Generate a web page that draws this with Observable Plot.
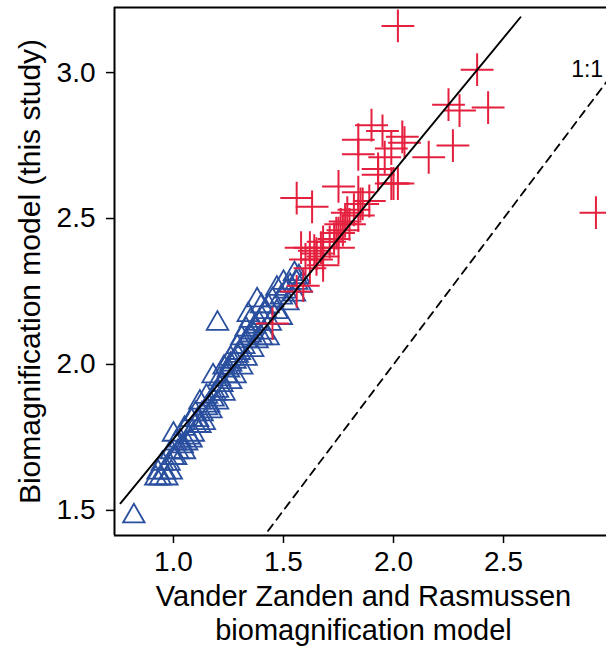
<!DOCTYPE html>
<html><head><meta charset="utf-8">
<script src="https://cdn.jsdelivr.net/npm/d3@7"></script>
<script src="https://cdn.jsdelivr.net/npm/@observablehq/plot@0.6"></script>
<style>body{margin:0;background:#fff;overflow:hidden} #chart svg{display:block}</style>
</head><body><div id="chart"></div>
<script>
// Blue triangles (fish / lower trophic group)
const triX = [0.82,0.92,0.94,0.97,0.93,0.96,0.99,0.95,0.98,1.00,1.01,0.99,1.02,1.04,1.01,1.06,1.03,1.00,1.07,1.09,1.05,1.10,1.08,1.11,1.13,1.10,1.15,1.16,1.12,1.18,1.15,1.19,1.20,1.18,1.22,1.21,1.24,1.25,1.23,1.26,1.28,1.26,1.29,1.30,1.29,1.32,1.33,1.31,1.35,1.36,1.33,1.37,1.35,1.39,1.20,1.34,1.38,1.40,1.42,1.40,1.43,1.45,1.47,1.49,1.51,1.50,1.53,1.55,1.56,1.57,1.58,
  1.05,1.08,1.12,1.14,1.17,1.20,1.23,1.26,1.28,1.31,1.33,1.36,1.38,1.41,1.44,1.47,1.52,1.55,1.40,1.43,1.49];
const triY = [1.48,1.61,1.61,1.61,1.63,1.63,1.63,1.66,1.66,1.68,1.68,1.70,1.70,1.72,1.73,1.73,1.74,1.76,1.75,1.76,1.78,1.79,1.81,1.81,1.83,1.83,1.85,1.86,1.87,1.88,1.89,1.90,1.91,1.96,1.93,1.95,1.96,1.98,1.99,2.00,2.01,2.02,2.03,2.04,2.06,2.06,2.08,2.09,2.10,2.11,2.12,2.13,2.15,2.14,2.14,2.17,2.22,2.16,2.18,2.20,2.20,2.22,2.26,2.23,2.25,2.28,2.27,2.31,2.28,2.30,2.27,
  1.70,1.74,1.79,1.80,1.84,1.87,1.90,1.94,1.96,1.99,2.02,2.05,2.08,2.11,2.14,2.18,2.21,2.24,2.09,2.09,2.16];
// Red crosses (higher trophic group)
const crossX = [2.02,2.38,2.25,2.30,2.43,1.90,1.95,1.84,2.04,2.05,1.99,1.84,2.27,2.16,1.96,1.93,2.00,2.02,1.99,1.75,1.56,1.63,2.92,1.89,1.86,1.82,1.79,1.84,1.78,1.76,1.80,1.75,1.73,1.71,1.58,1.64,1.67,1.75,1.65,1.68,1.60,1.65,1.62,1.68,1.59,1.56,1.45,1.84,1.85,1.77,1.74,1.68,1.62,1.93];
const crossY = [3.16,3.01,2.89,2.87,2.88,2.82,2.80,2.77,2.78,2.76,2.74,2.72,2.75,2.71,2.71,2.67,2.62,2.62,2.62,2.61,2.57,2.54,2.52,2.56,2.55,2.53,2.52,2.51,2.49,2.48,2.48,2.45,2.43,2.42,2.40,2.39,2.40,2.40,2.38,2.37,2.36,2.36,2.33,2.34,2.27,2.25,2.14,2.59,2.55,2.46,2.45,2.42,2.40,2.65];
// Fitted regression line and 1:1 reference
const fitIntercept = 0.829;
const fitSlope = 0.916;
const fitXRange = [0.759, 2.577];
const oneToOneRange = [1.2, 3.2];
const oneToOneLabel = ["1:1"];
const labelPos = [2.88, 3.01];
// Axes
const xDomain = [0.732, 2.968];
const yDomain = [1.414, 3.223];
const xTicks = [1.0, 1.5, 2.0, 2.5];
const yTicks = [1.5, 2.0, 2.5, 3.0];
const xTitle = "Vander Zanden and Rasmussen\nbiomagnification model";
const yTitle = "Biomagnification model (this study)";

const tri = triX.map((x, i) => ({x, y: triY[i]}));
const crs = crossX.map((x, i) => ({x, y: crossY[i]}));
const fit = fitXRange.map(x => ({x, y: fitIntercept + fitSlope * x}));
const one = oneToOneRange.map(v => ({x: v, y: v}));

const chart = Plot.plot({
  width: 606,
  height: 646,
  marginLeft: 114,
  marginTop: 7,
  marginRight: 0,
  marginBottom: 111,
  style: {fontFamily: "'Liberation Sans', Arial, sans-serif", color: "#000", background: "#fff"},
  x: {domain: xDomain},
  y: {domain: yDomain},
  marks: [
    Plot.axisX({ticks: xTicks, tickFormat: d3.format(".1f"), tickSize: 8, tickPadding: 8, fontSize: 28, label: null, strokeWidth: 1.5}),
    Plot.axisY({ticks: yTicks, tickFormat: d3.format(".1f"), tickSize: 8, tickPadding: 11, fontSize: 28, label: null, strokeWidth: 1.5}),
    Plot.ruleX([xDomain[0]], {stroke: "#000", strokeWidth: 2}),
    Plot.ruleY([yDomain[0]], {stroke: "#000", strokeWidth: 2}),
    Plot.ruleY([yDomain[1]], {stroke: "#000", strokeWidth: 2}),
    Plot.dot(tri, {x: "x", y: "y", symbol: "triangle", r: 8, stroke: "#2b4f9f", strokeWidth: 1.8, fill: "none"}),
    Plot.dot(crs, {x: "x", y: "y", symbol: "plus", r: 10.6, stroke: "#e5203f", strokeWidth: 2}),
    Plot.line(one, {x: "x", y: "y", stroke: "#000", strokeWidth: 1.8, strokeDasharray: "8,6", clip: true}),
    Plot.line(fit, {x: "x", y: "y", stroke: "#000", strokeWidth: 1.9}),
    Plot.text(oneToOneLabel, {x: () => labelPos[0], y: () => labelPos[1], fontSize: 23, fill: "#000"}),
    Plot.text([yTitle], {frameAnchor: "left", rotate: -90, dx: -84, textAnchor: "middle", lineAnchor: "middle", fontSize: 30, fill: "#000"}),
    Plot.text([xTitle], {frameAnchor: "bottom", dx: 3, dy: 46, textAnchor: "middle", lineAnchor: "top", lineHeight: 1.17, fontSize: 29, fill: "#000"})
  ]
});
document.getElementById("chart").appendChild(chart);
</script>
</body></html>
